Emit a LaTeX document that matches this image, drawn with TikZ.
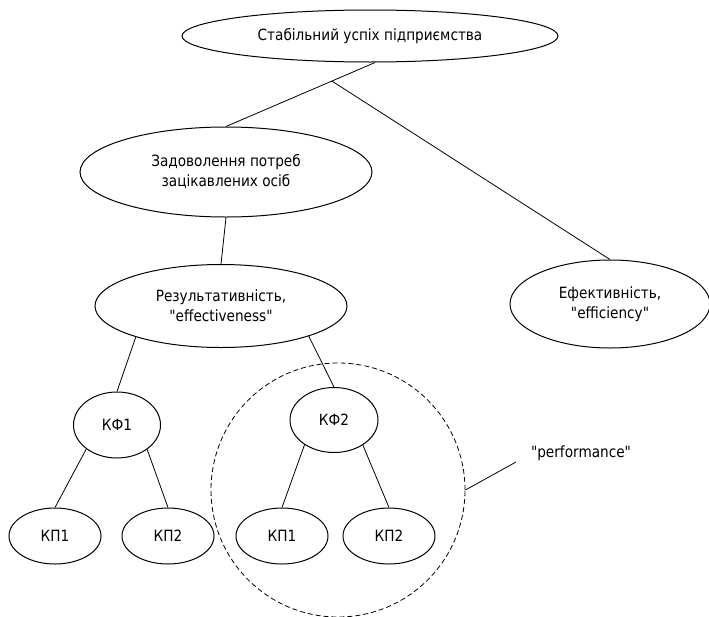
\documentclass[tikz,border=0pt]{standalone}
\usepackage{fontspec}
\setmainfont{DejaVu Sans}[FakeStretch=0.88,Ligatures=TeXOff]
\usepackage{tikz}
\usetikzlibrary{shapes.geometric}

\begin{document}
\begin{tikzpicture}[x=1pt,y=-1pt,font=\fontsize{15.5}{20}\selectfont,line width=0.8pt]
    \tikzstyle{oval}=[draw, ellipse, inner sep=0pt, align=center, line width=1pt]
\tikzstyle{leaf}=[oval, minimum width=92pt, minimum height=56pt]
\useasboundingbox (0,0) rectangle (709,616);
\node[oval, minimum width=376pt, minimum height=52pt] (top) at (370,36) {Стабільний успіх підприємства};
\node[oval, minimum width=292pt, minimum height=90pt] (zad) at (226,172) {Задоволення потреб\\зацікавлених осіб};
\node[oval, minimum width=252pt, minimum height=83pt] (res) at (221,306) {Результативність,\\"effectiveness"};
\node[oval, minimum width=200pt, minimum height=88pt] (eff) at (610,304) {Ефективність,\\"efficiency"};
\node[oval, minimum width=87pt, minimum height=66pt] (kf1) at (117,425) {КФ1};
\node[oval, minimum width=88pt, minimum height=65pt] (kf2) at (334,420) {КФ2};
\node[leaf] (kp1a) at (55,536) {КП1};
\node[leaf] (kp2a) at (168,536) {КП2};
\node[leaf] (kp1b) at (282,536) {КП1};
\node[leaf] (kp2b) at (389,536) {КП2};
% group of KF2
\node[draw, circle, minimum size=254pt, dash pattern=on 5pt off 3pt] (grp) at (338,490) {};
\node (perf) at (581,453) {"performance"};
\coordinate (tail) at (516,462);

\draw (top.-79) -- coordinate[pos=0.29] (fork) (zad.north);
\draw (fork) -- (eff.north);
\draw (zad.south) -- (res.north);
\draw (res.200) -- (kf1.north);
\draw (res.-19) -- (kf2.north);
\draw (kf1.218) -- (kp1a.north);
\draw (kf1.-39) -- (kp2a.north);
\draw (kf2.220) -- (kp1b.north);
\draw (kf2.-41) -- (kp2b.north);
\draw (grp.east) -- (tail);
\end{tikzpicture}
\end{document}
